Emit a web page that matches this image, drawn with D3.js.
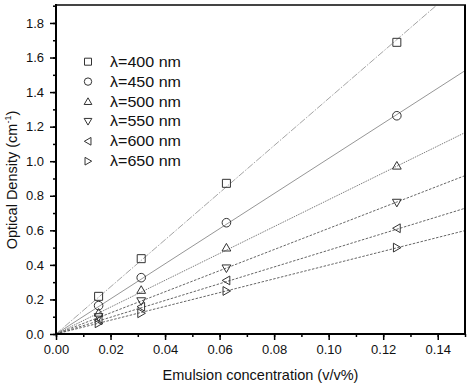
<!DOCTYPE html>
<html><head><meta charset="utf-8">
<script src="https://cdn.jsdelivr.net/npm/d3@7"></script>
<style>body{margin:0;background:#fff}svg{display:block;font-family:"Liberation Sans",Arial,sans-serif}</style>
</head><body>
<svg id="c" width="474" height="384"></svg>
<script>
const concentrations = [0.015625, 0.03125, 0.0625, 0.125];
const seriesNames = ["λ=400 nm","λ=450 nm","λ=500 nm","λ=550 nm","λ=600 nm","λ=650 nm"];
const od400 = [0.218, 0.436, 0.872, 1.688];
const od450 = [0.164, 0.326, 0.644, 1.263];
const od500 = [0.123, 0.255, 0.500, 0.974];
const od550 = [0.098, 0.190, 0.380, 0.760];
const od600 = [0.080, 0.158, 0.310, 0.612];
const od650 = [0.062, 0.120, 0.249, 0.500];
const fitSlopes = [13.63, 10.16, 7.77, 6.11, 4.85, 3.99];
const xTicks = [0,0.02,0.04,0.06,0.08,0.10,0.12,0.14];
const yTicks = [0,0.2,0.4,0.6,0.8,1.0,1.2,1.4,1.6,1.8];
const xLabel = "Emulsion concentration (v/v%)";

const seriesValues = [od400, od450, od500, od550, od600, od650];
const shapes = ["square","circle","up","down","left","right"];
const lineStyles = [
  {c:"#9a9a9a", d:"7,1.5,1.5,1.5"},
  {c:"#8a8a8a", d:null},
  {c:"#707070", d:"1.5,1"},
  {c:"#555", d:"2.5,1.5"},
  {c:"#555", d:"2.5,1.5"},
  {c:"#555", d:"2.5,1.5"}
];

const L=56, R=465, T=5, B=334;
const svg = d3.select("#c");
const x = d3.scaleLinear().domain([0,0.15]).range([L,R]);
const y = d3.scaleLinear().domain([0,1.904]).range([B,T]);

svg.append("clipPath").attr("id","clip").append("rect")
  .attr("x",L).attr("y",T).attr("width",R-L).attr("height",B-T);

// fit lines
const g = svg.append("g").attr("clip-path","url(#clip)");
fitSlopes.forEach((s,i)=>{
  g.append("line").attr("x1",x(0)).attr("y1",y(0))
   .attr("x2",x(0.15)).attr("y2",y(0.15*s))
   .attr("stroke",lineStyles[i].c).attr("stroke-width",0.9)
   .attr("stroke-dasharray",lineStyles[i].d);
});

function shapePath(type, cx, cy, r){
  switch(type){
    case "square": return `M${cx-r},${cy-r}h${2*r}v${2*r}h${-2*r}Z`;
    case "circle": return `M${cx-r},${cy}a${r},${r} 0 1,0 ${2*r},0a${r},${r} 0 1,0 ${-2*r},0Z`;
    case "up": return `M${cx},${cy-r*1.05}L${cx+r*1.1},${cy+r*0.85}L${cx-r*1.1},${cy+r*0.85}Z`;
    case "down": return `M${cx},${cy+r*1.05}L${cx+r*1.1},${cy-r*0.85}L${cx-r*1.1},${cy-r*0.85}Z`;
    case "left": return `M${cx-r*1.05},${cy}L${cx+r*0.85},${cy-r*1.1}L${cx+r*0.85},${cy+r*1.1}Z`;
    case "right": return `M${cx+r*1.05},${cy}L${cx-r*0.85},${cy-r*1.1}L${cx-r*0.85},${cy+r*1.1}Z`;
  }
}

seriesValues.forEach((vals,i)=>{
  svg.append("g").selectAll("path").data(vals).join("path")
    .attr("d",(v,j)=>shapePath(shapes[i], x(concentrations[j]), y(v), shapes[i]==="circle"?4.3:4))
    .attr("fill","none").attr("stroke","#333").attr("stroke-width",1);
});

// frame
svg.append("line").attr("x1",L).attr("x2",R+1).attr("y1",T).attr("y2",T).attr("stroke","#444").attr("stroke-width",2);
svg.append("line").attr("x1",R).attr("x2",R).attr("y1",T).attr("y2",B).attr("stroke","#000").attr("stroke-width",2);

// axes
const xMinor = d3.range(0,0.1501,0.01);
const yMinor = d3.range(0,1.901,0.1);
const xa = svg.append("g").attr("transform",`translate(0,${B})`);
xa.append("g").call(d3.axisBottom(x).tickValues(xMinor).tickSize(3).tickFormat(""))
  .call(a=>{a.select(".domain").remove(); a.selectAll("line").attr("stroke-width",1.5);});
xa.append("g").call(d3.axisBottom(x).tickValues(xTicks).tickSize(6).tickPadding(5).tickFormat(d3.format(".2f")))
  .call(a=>{a.select(".domain").attr("stroke-width",2).attr("d",`M${L-1},0H${R+1}`); a.selectAll("line").attr("stroke-width",1.5);
    a.selectAll("text").attr("font-size",13).attr("fill","#111").attr("font-family","Liberation Sans, Arial");});

const ya = svg.append("g").attr("transform",`translate(${L},0)`);
ya.append("g").call(d3.axisLeft(y).tickValues(yMinor).tickSize(3).tickFormat(""))
  .call(a=>{a.select(".domain").remove(); a.selectAll("line").attr("stroke-width",1.5);});
ya.append("g").call(d3.axisLeft(y).tickValues(yTicks).tickSize(6).tickPadding(6).tickFormat(d3.format(".1f")))
  .call(a=>{a.select(".domain").attr("stroke-width",2).attr("d",`M0,${T-1}V${B+1}`); a.selectAll("line").attr("stroke-width",1.5);
    a.selectAll("text").attr("font-size",13).attr("fill","#111").attr("font-family","Liberation Sans, Arial");});

// axis titles
svg.append("text").attr("x",(L+R)/2).attr("y",380).attr("text-anchor","middle")
  .attr("font-size",14.5).attr("fill","#111").text(xLabel);
const yl = svg.append("text").attr("transform","translate(17,180) rotate(-90)").attr("text-anchor","middle")
  .attr("font-size",14.5).attr("fill","#111");
yl.append("tspan").text("Optical Density (cm");
yl.append("tspan").attr("dy",-6).attr("font-size",9).text("-1");
yl.append("tspan").attr("dy",6).text(")");

// legend
const legY0 = 61.7, legDy = 19.9;
seriesNames.forEach((n,i)=>{
  const cy = legY0 + i*legDy;
  svg.append("path").attr("d",shapePath(shapes[i],88,cy,shapes[i]==="circle"?3.7:3.5))
    .attr("fill","none").attr("stroke","#333").attr("stroke-width",1);
  svg.append("text").attr("x",110).attr("y",cy+5).attr("font-size",14.5).attr("fill","#111")
    .attr("textLength",71).attr("lengthAdjust","spacingAndGlyphs").text(n);
});
</script>
</body></html>
